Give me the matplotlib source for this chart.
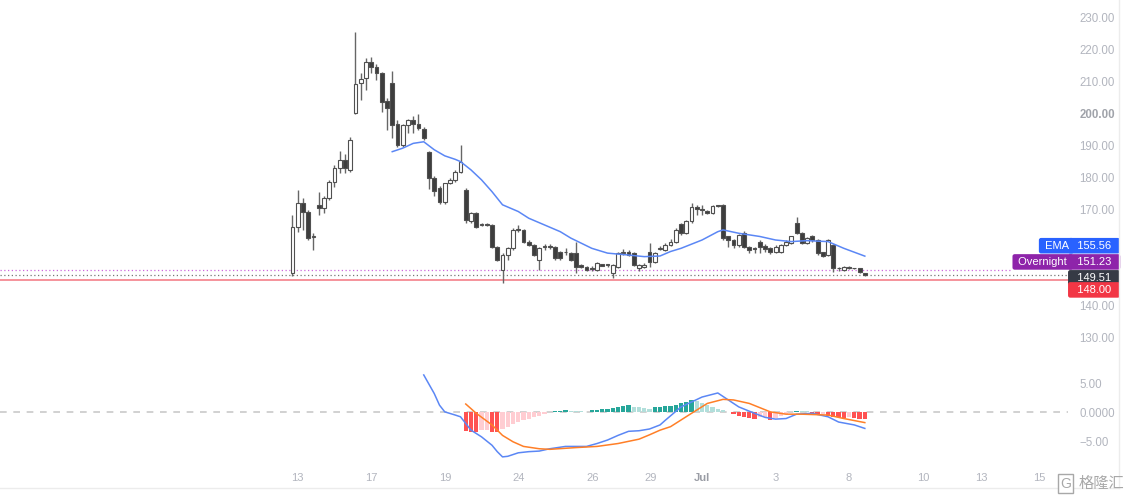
import numpy as np
import matplotlib
matplotlib.use("Agg")
import matplotlib.pyplot as plt
from matplotlib.lines import Line2D

plt.rcParams['font.family'] = ['Liberation Sans', 'DejaVu Sans']

# --- candles (one per bar) ---
opens = [150.2, 164.8, 172.1, 169.2, 161.5, 171.6, 170.5, 173.7, 178.8, 183.0,
         185.7, 182.5, 200.2, 209.6, 211.2, 216.3, 214.6, 212.7, 204.1, 209.6,
         197.0, 190.3, 196.6, 198.1, 196.8, 195.3, 188.2, 180.0, 176.8, 172.6,
         178.3, 179.4, 182.0, 176.25, 166.4, 169.0, 165.3, 165.4, 165.3, 158.5,
         151.25, 155.9, 158.0, 163.75, 163.75, 160.1, 159.1, 154.4, 158.3, 158.6,
         158.5, 157.0, 157.0, 156.5, 156.5, 152.8, 152.3, 151.8, 151.25, 153.0,
         152.8, 150.2, 152.3, 156.5, 157.0, 156.5, 151.8, 152.3, 157.0, 153.85,
         157.9, 157.5, 159.1, 160.1, 165.5, 162.7, 166.4, 170.8, 170.2, 169.8,
         169.0, 171.3, 171.6, 161.7, 160.6, 159.1, 162.7, 158.5, 158.0, 160.1,
         158.8, 158.0, 157.0, 157.0, 159.1, 159.8, 165.8, 162.7, 159.8, 161.7,
         160.6, 156.7, 155.8, 159.1, 151.8, 151.25, 152.1, 151.8, 151.8, 150.2]
highs = [168.4, 176.3, 173.8, 170.0, 162.7, 175.7, 174.5, 179.5, 184.1, 188.4,
         187.5, 192.9, 225.5, 212.7, 217.4, 217.9, 215.5, 213.0, 205.0, 213.4,
         198.0, 197.0, 198.5, 199.5, 200.0, 196.0, 188.5, 180.5, 177.5, 178.5,
         180.0, 182.5, 190.3, 177.0, 169.5, 169.5, 166.0, 166.0, 165.5, 158.7,
         156.5, 158.5, 164.5, 165.3, 164.0, 160.5, 159.5, 158.3, 159.5, 159.3,
         158.8, 157.3, 158.0, 157.0, 160.1, 153.2, 152.5, 152.5, 153.6, 153.2,
         153.2, 153.2, 157.0, 157.8, 157.5, 156.8, 153.2, 153.3, 159.6, 157.0,
         158.8, 159.6, 161.0, 164.5, 166.0, 166.8, 172.1, 171.6, 171.5, 170.0,
         171.5, 171.6, 171.8, 162.0, 161.0, 162.5, 163.5, 158.8, 158.5, 160.6,
         159.5, 158.5, 159.0, 159.5, 160.5, 162.0, 167.8, 163.0, 161.5, 162.2,
         160.8, 157.0, 161.0, 159.5, 152.3, 152.5, 152.5, 152.0, 152.0, 150.3]
lows = [149.5, 163.2, 163.8, 160.5, 157.5, 168.4, 168.9, 173.0, 177.3, 181.5,
        181.5, 182.0, 200.0, 204.4, 207.5, 212.7, 210.6, 200.7, 195.0, 192.6,
        189.8, 189.6, 194.0, 194.0, 195.0, 191.8, 176.5, 174.5, 172.0, 172.0,
        178.0, 178.8, 181.5, 166.0, 166.0, 164.5, 165.0, 165.0, 158.0, 154.0,
        147.2, 154.5, 157.5, 163.0, 159.8, 158.7, 155.5, 151.25, 157.5, 157.8,
        154.5, 154.5, 156.0, 154.0, 150.2, 152.0, 151.0, 150.8, 151.0, 152.4,
        152.3, 148.6, 152.0, 156.0, 155.5, 152.5, 151.0, 152.0, 152.3, 153.5,
        157.5, 157.3, 158.8, 159.8, 162.3, 162.5, 166.0, 168.5, 168.5, 168.6,
        168.8, 171.0, 160.6, 158.5, 158.0, 158.5, 158.0, 156.5, 156.5, 156.5,
        157.0, 156.3, 156.5, 156.5, 158.8, 159.5, 162.5, 159.3, 159.5, 160.0,
        156.0, 155.3, 155.5, 150.5, 150.8, 151.0, 151.5, 151.5, 150.2, 149.2]
closes = [164.8, 172.1, 169.5, 161.2, 162.0, 170.7, 173.7, 178.8, 183.0, 185.6,
          183.0, 191.9, 209.3, 210.9, 216.3, 214.6, 212.9, 203.8, 201.8, 196.6,
          190.3, 196.6, 198.1, 196.8, 195.6, 192.4, 180.0, 176.0, 172.6, 178.3,
          179.4, 182.0, 185.1, 166.9, 168.9, 164.8, 165.5, 165.2, 158.5, 154.4,
          155.9, 158.0, 163.75, 164.1, 160.1, 159.1, 155.9, 158.0, 158.6, 158.4,
          154.9, 154.9, 156.7, 154.4, 152.3, 152.3, 151.25, 151.6, 153.3, 152.6,
          152.7, 152.8, 156.5, 157.0, 155.9, 152.8, 152.8, 152.8, 153.85, 156.5,
          158.1, 159.1, 160.1, 163.75, 162.7, 166.4, 171.0, 170.2, 170.0, 169.0,
          171.3, 171.2, 161.2, 160.6, 159.1, 162.2, 158.5, 157.5, 157.8, 158.3,
          157.8, 156.8, 158.5, 159.1, 160.1, 161.7, 162.7, 159.6, 161.2, 160.6,
          156.5, 155.6, 160.6, 151.8, 151.7, 152.3, 152.0, 151.7, 150.5, 149.51]

# EMA read at some bars
ema_idx = [19, 21, 23, 25, 27, 29, 31, 32, 34, 36, 38, 40, 43, 45, 48, 51, 53,
           57, 60, 64, 67, 70, 72, 74, 78, 81, 82, 85, 89, 92, 95, 98, 102, 105, 109]
ema_val = [188.2, 189.3, 190.8, 191.3, 188.8, 186.9, 185.8, 185.1, 182.5, 179.4,
           175.7, 171.6, 169.5, 167.4, 165.3, 163.2, 161.2, 158.0, 156.5, 155.9,
           155.4, 155.6, 157.0, 158.0, 160.6, 163.2, 163.75, 162.7, 161.7, 160.6,
           160.1, 160.4, 160.1, 158.0, 155.56]

# MACD pane
macd_idx = [25, 27, 28, 29, 31, 32, 33, 34, 36, 38, 39, 40, 41, 43, 45, 47, 49,
            52, 56, 58, 60, 62, 64, 66, 68, 70, 71, 74, 78, 81, 83, 85, 88, 90,
            92, 94, 96, 99, 100, 102, 104, 107, 109]
macd_val = [6.4, 3.2, 1.2, 0.05, -0.5, -0.8, -1.95, -3.1, -4.25, -5.7, -6.8, -7.7,
            -7.6, -7.0, -6.8, -6.7, -6.3, -5.9, -5.9, -5.4, -4.8, -4.0, -3.3, -3.2,
            -2.9, -2.2, -1.4, 0.9, 2.6, 3.3, 2.1, 0.9, -0.2, -0.9, -1.2, -1.1, -0.35,
            -0.2, -0.4, -0.8, -1.7, -2.2, -2.8]
sig_idx = [33, 35, 38, 40, 42, 44, 47, 49, 54, 58, 62, 66, 68, 70, 72, 76, 79,
           82, 84, 87, 91, 94, 97, 102, 105, 109]
sig_val = [1.4, -0.2, -2.2, -4.0, -5.1, -5.9, -6.3, -6.4, -6.1, -5.9, -5.4, -4.65,
           -3.9, -3.1, -2.5, -0.2, 1.5, 2.2, 2.1, 1.5, 0.05, -0.35, -0.35, -0.5,
           -1.1, -1.8]
hist_first = 33
hist_val = [-3.3, -3.4, -3.45, -3.1, -3.0, -3.4, -3.5, -2.9, -2.5, -2.1,
            -1.7, -1.4, -1.1, -0.9, -0.6, -0.3, 0.1, 0.2, 0.25, 0.3,
            0.25, 0.2, 0.15, 0.1, 0.3, 0.4, 0.5, 0.6, 0.75, 0.9,
            1.1, 1.15, 0.9, 0.8, 0.7, 0.6, 0.8, 0.9, 1.0, 1.1,
            1.3, 1.5, 1.8, 2.1, 1.9, 1.6, 1.2, 0.8, 0.5, 0.3,
            0.1, -0.4, -0.6, -0.8, -1.0, -1.1, -0.9, -0.8, -1.3, -1.0,
            -0.7, -0.4, 0.1, 0.2, 0.2, 0.15, -0.3, -0.4, -0.3, -0.6,
            -0.8, -0.9, -1.0, -0.8, -1.0, -1.1, -1.2]

date_pos = [0.9, 15.0, 29.1, 43.0, 57.1, 68.3, 78.0, 92.1, 106.0, 120.1, 131.2, 142.3]
date_labels = ['13', '17', '19', '24', '26', '29', 'Jul', '3', '8', '10', '13', '15']
# 150 and 160 sit under the price tags, so they are not shown
price_ticks = [130, 140, 170, 180, 190, 200, 210, 220, 230]

ema_last = 155.56
overnight = 151.23
last_price = 149.51
level_line = 148.00

GREY = '#b2b5be'

fig = plt.figure(figsize=(11.29, 4.99), dpi=100)
ax = fig.add_axes([0, 0.2946, 0.946, 0.7054])
axm = fig.add_axes([0, 0.0681, 0.946, 0.2104], sharex=ax)

# candles
x = np.arange(len(closes))
o = np.array(opens); c = np.array(closes)
ax.vlines(x, lows, highs, color='#666666', lw=1, zorder=2)
bottom = np.minimum(o, c)
height = np.maximum(np.abs(c - o), 0.25)
face = np.where(c >= o, 'white', '#3d3d3d')
ax.bar(x, height, bottom=bottom, width=0.74, color=face, edgecolor='#505050',
       linewidth=0.8, zorder=3)

ax.plot(ema_idx, ema_val, color='#5b87f5', lw=1.1, zorder=4)

ax.axhline(level_line, color='#f58a93', lw=1.3, zorder=1)
ax.axhline(last_price, color='#777777', lw=0.9, ls=(0, (1, 2)), zorder=1)
ax.axhline(overnight, xmax=0.946, color='#cc66dd', lw=0.9, ls=(0, (1, 2)), zorder=1)

ax.set_xlim(-55.7, 147.7)
ax.set_ylim(125.6, 235.6)
ax.yaxis.tick_right()
ax.set_yticks(price_ticks)
ax.set_yticklabels(['%.2f' % v for v in price_ticks])
ax.tick_params(axis='y', length=0, pad=8, labelsize=8.3, labelcolor=GREY)
ax.tick_params(axis='x', bottom=False, labelbottom=False)
for lab in ax.get_yticklabels():
    if lab.get_text() == '200.00':
        lab.set_fontweight('bold')
        lab.set_color('#a0a3aa')
for s in ax.spines.values():
    s.set_visible(False)


def tag(value, text, color, dy, dx=2, fc='white'):
    ax.annotate(text, xy=(1, value), xycoords=('axes fraction', 'data'),
                xytext=(dx, dy), textcoords='offset points', ha='left', va='center',
                fontsize=8, color=fc, annotation_clip=False, zorder=10,
                bbox=dict(boxstyle='round,pad=0.25,rounding_size=0.2', fc=color,
                          ec='none'))


tag(ema_last, '  %.2f  ' % ema_last, '#2962ff', 7.5)
tag(ema_last, ' EMA ', '#2962ff', 7.5, dx=-19)
tag(overnight, '  %.2f  ' % overnight, '#8e24aa', 5.8)
tag(overnight, ' Overnight ', '#8e24aa', 5.8, dx=-38)
tag(last_price, '  %.2f  ' % last_price, '#363a45', -1.7)
tag(level_line, '  %.2f  ' % level_line, '#f23645', -6.9)

# MACD pane
cols = []
prev = None
for h in hist_val:
    if h >= 0:
        cols.append('#26a69a' if prev is None or h > prev else '#b2dfdb')
    else:
        cols.append('#ff5252' if prev is None or h < prev else '#ffcdd2')
    prev = h
hx = np.arange(hist_first, hist_first + len(hist_val))
axm.bar(hx, hist_val, width=0.8, color=cols, zorder=2)
axm.plot(macd_idx, macd_val, color='#5b87f5', lw=1.1, zorder=3)
axm.plot(sig_idx, sig_val, color='#ff7f27', lw=1.1, zorder=3)
axm.axhline(0, color='#c9c9c9', lw=1.2, ls=(0, (4, 4)), zorder=1)
axm.set_ylim(-9.1, 8.97)
axm.yaxis.tick_right()
axm.set_yticks([5, 0, -5])
axm.set_yticklabels(['5.00', '0.0000', '\u22125.00'])
axm.tick_params(axis='y', length=0, pad=8, labelsize=8.3, labelcolor=GREY)
axm.set_xticks(date_pos)
axm.set_xticklabels(date_labels)
axm.tick_params(axis='x', length=0, pad=6, labelsize=8, labelcolor=GREY)
for lab in axm.get_xticklabels():
    if lab.get_text() == 'Jul':
        lab.set_fontweight('bold')
        lab.set_color('#9a9da5')
for s in axm.spines.values():
    s.set_visible(False)

# frame lines and watermark
fig.add_artist(Line2D([0.9912, 0.9912], [0.022, 1], color='#ececec', lw=1))
fig.add_artist(Line2D([0, 0.9912], [0.022, 0.022], color='#ececec', lw=1))
fig.text(0.9435, 0.031, 'G', fontsize=10, color='#a8a8a8', ha='center', va='center',
         bbox=dict(boxstyle='square,pad=0.15', fc='white', ec='#a8a8a8', lw=1))
fig.text(0.996, 0.031, '格隆汇', fontsize=11, color='#a8a8a8', ha='right', va='center',
         family=['Noto Sans CJK SC', 'DejaVu Sans'])

fig.savefig('out.png', dpi=100, facecolor='white')
